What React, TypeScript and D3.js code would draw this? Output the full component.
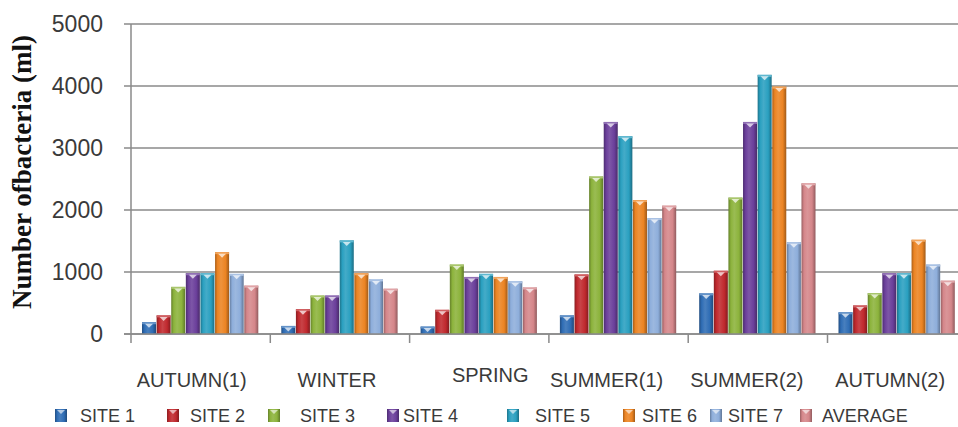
import React from "react";
import * as d3 from "d3";

// Bacteria counts per sampling season, by site
const categories = ["AUTUMN(1)", "WINTER", "SPRING", "SUMMER(1)", "SUMMER(2)", "AUTUMN(2)"];
const seriesNames = ["SITE 1", "SITE 2", "SITE 3", "SITE 4", "SITE 5", "SITE 6", "SITE 7", "AVERAGE"];
const site1 = [190, 130, 120, 300, 655, 350];
const site2 = [300, 400, 390, 960, 1020, 460];
const site3 = [760, 620, 1120, 2540, 2200, 660];
const site4 = [980, 620, 920, 3420, 3420, 980];
const site5 = [980, 1510, 970, 3190, 4180, 980];
const site6 = [1320, 980, 920, 2160, 3990, 1520];
const site7 = [970, 880, 850, 1870, 1480, 1120];
const average = [780, 730, 750, 2070, 2430, 860];
const yTicks = [0, 1000, 2000, 3000, 4000, 5000];
const yLabel = "Number ofbacteria (ml)";

const seriesValues = [site1, site2, site3, site4, site5, site6, site7, average];
const colors = ["#2f6db5", "#c0292e", "#8cb33c", "#6b3f9b", "#2aa0c0", "#ec8423", "#8eaedb", "#d5868a"];

// Layout
const W = 958;
const H = 427;
const plotLeft = 131;
const groupStep = 139.3;
const yTop = 24;
const yBottom = 334;
const legendSwatchX = [55, 167, 268, 387, 507, 623, 710, 800];
const legendTextX = [80, 190, 300, 403, 535, 642, 728, 822];
const labelDx = [-9, -3, 11, -12, -11, -7];
const labelDy = [0, 0, -5, 0, 0, 0];

function shade(c: string, k: number) {
  const col = d3.rgb(c);
  if (k < 1) return d3.rgb(col.r * k, col.g * k, col.b * k).formatHex();
  const t = k - 1;
  return d3.rgb(col.r + (255 - col.r) * t, col.g + (255 - col.g) * t, col.b + (255 - col.b) * t).formatHex();
}

export default function App() {
  const x0 = d3
    .scaleBand<string>()
    .domain(categories)
    .range([plotLeft, plotLeft + groupStep * categories.length])
    .padding(0);
  const x1 = d3
    .scaleBand<string>()
    .domain(seriesNames)
    .range([11, groupStep - 12])
    .paddingInner(0.04);
  const y = d3.scaleLinear().domain([0, 5000]).range([yBottom, yTop]);

  const grid = "#8a8a8a";
  const textCol = "#3a3a3a";

  return (
    <svg
      width={W}
      height={H}
      style={{ position: "absolute", left: 0, top: 0, background: "#fff" }}
      fontFamily="'Liberation Sans', Arial, sans-serif"
    >
      <defs>
        {colors.map((c, i) => (
          <linearGradient key={i} id={`g${i}`} x1="0" x2="1" y1="0" y2="0">
            <stop offset="0" stopColor={shade(c, 0.72)} />
            <stop offset="0.18" stopColor={c} />
            <stop offset="0.42" stopColor={shade(c, 1.12)} />
            <stop offset="0.75" stopColor={c} />
            <stop offset="1" stopColor={shade(c, 0.68)} />
          </linearGradient>
        ))}
      </defs>

      {/* gridlines and y ticks */}
      {yTicks.map((t) => (
        <g key={t}>
          <line x1={plotLeft - 7} x2={W} y1={y(t)} y2={y(t)} stroke={grid} strokeWidth={1.5} />
          <text
            x={103}
            y={y(t)}
            dy="0.36em"
            textAnchor="end"
            fontSize={23}
            fill={textCol}
          >
            {t}
          </text>
        </g>
      ))}

      {/* y axis */}
      <line x1={plotLeft} x2={plotLeft} y1={yTop} y2={yBottom} stroke={grid} strokeWidth={1.5} />

      {/* category boundary ticks */}
      {categories.map((c) => (
        <line
          key={c}
          x1={x0(c)!}
          x2={x0(c)!}
          y1={yBottom}
          y2={yBottom + 9}
          stroke={grid}
          strokeWidth={1.5}
        />
      ))}

      {/* bars */}
      {categories.map((c, ci) => (
        <g key={c} transform={`translate(${x0(c)},0)`}>
          {seriesNames.map((s, si) => {
            const v = seriesValues[si][ci];
            const bx = x1(s)!;
            const bw = x1.bandwidth();
            const top = y(v);
            const cx = bx + bw / 2;
            return (
              <g key={s}>
                <rect x={bx} y={top} width={bw} height={yBottom - top} fill={`url(#g${si})`} />
                <rect x={bx} y={top} width={bw} height={2} fill={shade(colors[si], 1.25)} />
                <polygon
                  points={`${cx - 4},${top + 1.5} ${cx + 4},${top + 1.5} ${cx},${top + 5.5}`}
                  fill="#ffffff"
                  fillOpacity={0.7}
                />
              </g>
            );
          })}
        </g>
      ))}

      {/* x axis */}
      <line x1={plotLeft - 7} x2={W} y1={yBottom} y2={yBottom} stroke={grid} strokeWidth={1.5} />

      {/* category labels */}
      {categories.map((c, i) => (
        <text
          key={c}
          x={x0(c)! + x0.bandwidth() / 2 + labelDx[i]}
          y={387 + labelDy[i]}
          textAnchor="middle"
          fontSize={20}
          fill={textCol}
        >
          {c}
        </text>
      ))}

      {/* y axis title */}
      <text
        transform={`translate(31,${(yTop + yBottom) / 2 - 7}) rotate(-90)`}
        textAnchor="middle"
        fontFamily="'Liberation Serif', 'Times New Roman', serif"
        fontWeight="bold"
        fontSize={27}
        fill="#111"
      >
        {yLabel}
      </text>

      {/* legend */}
      {seriesNames.map((s, i) => (
        <g key={s}>
          <rect x={legendSwatchX[i]} y={409} width={12} height={13} fill={`url(#g${i})`} />
          <polygon
            points={`${legendSwatchX[i] + 2},${410} ${legendSwatchX[i] + 10},${410} ${legendSwatchX[i] + 6},${414}`}
            fill="#fff"
            fillOpacity={0.6}
          />
          <text x={legendTextX[i]} y={422} fontSize={18} fill={textCol}>
            {s}
          </text>
        </g>
      ))}
    </svg>
  );
}
